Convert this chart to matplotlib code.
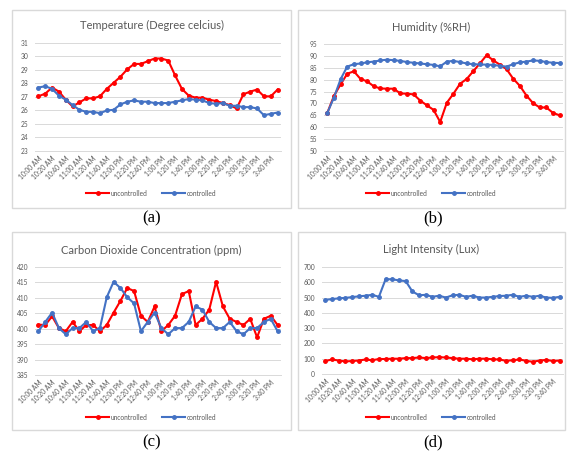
"""Four Excel-style line charts: uncontrolled vs controlled greenhouse readings."""

import matplotlib

matplotlib.use("Agg")
import matplotlib.pyplot as plt
from matplotlib.lines import Line2D
from matplotlib.patches import Rectangle

plt.rcParams["font.family"] = ["Lato", "DejaVu Sans"]

times = [
    "10:00 AM", "10:10 AM", "10:20 AM", "10:30 AM", "10:40 AM", "10:50 AM",
    "11:00 AM", "11:10 AM", "11:20 AM", "11:30 AM", "11:40 AM", "11:50 AM",
    "12:00 PM", "12:10 PM", "12:20 PM", "12:30 PM", "12:40 PM", "12:50 PM",
    "1:00 PM", "1:10 PM", "1:20 PM", "1:30 PM", "1:40 PM", "1:50 PM",
    "2:00 PM", "2:10 PM", "2:20 PM", "2:30 PM", "2:40 PM", "2:50 PM",
    "3:00 PM", "3:10 PM", "3:20 PM", "3:30 PM", "3:40 PM", "3:50 PM",
]

temp_uncontrolled = [27.05, 27.25, 27.7, 27.4, 26.8, 26.3, 26.6, 26.9, 26.9, 27.05, 27.6, 28.05,
                     28.5, 29.05, 29.45, 29.45, 29.65, 29.85, 29.85, 29.7, 28.6, 27.6, 27.1, 26.95,
                     26.95, 26.8, 26.7, 26.55, 26.4, 26.15, 27.2, 27.4, 27.55, 27.05, 27.05, 27.55]
temp_controlled = [27.7, 27.8, 27.6, 27.1, 26.8, 26.4, 26.05, 25.9, 25.9, 25.8, 26.0, 26.05,
                   26.45, 26.65, 26.75, 26.65, 26.65, 26.55, 26.55, 26.55, 26.65, 26.75, 26.85, 26.8,
                   26.75, 26.55, 26.5, 26.55, 26.35, 26.35, 26.25, 26.25, 26.15, 25.65, 25.75, 25.85]

hum_uncontrolled = [66.0, 73.2, 78.0, 82.5, 83.5, 80.3, 79.3, 77.2, 76.3, 76.2, 76.2, 74.2,
                    74.1, 73.8, 71.2, 69.2, 67.3, 62.2, 70.3, 74.1, 78.3, 80.3, 83.6, 86.9,
                    90.3, 88.1, 86.3, 84.4, 80.4, 77.4, 73.3, 70.1, 68.3, 68.3, 66.0, 65.0]
hum_controlled = [66.0, 72.5, 80.2, 85.5, 86.5, 86.8, 87.3, 87.6, 88.1, 88.4, 88.2, 87.9,
                  87.4, 87.1, 86.8, 86.5, 86.2, 85.6, 87.6, 87.9, 87.4, 86.8, 86.5, 86.4,
                  86.3, 86.2, 85.8, 85.5, 86.5, 87.3, 87.6, 88.1, 87.9, 87.4, 87.1, 87.0]

co2_uncontrolled = [401.3, 401.2, 404.0, 400.2, 399.2, 402.2, 399.2, 401.2, 401.2, 399.2, 401.2, 405.2,
                    409.0, 413.2, 412.2, 404.2, 402.2, 407.2, 399.2, 401.2, 404.2, 411.2, 412.2, 401.2,
                    403.2, 406.2, 415.2, 407.2, 403.2, 402.2, 401.2, 403.2, 397.2, 403.2, 404.2, 401.2]
co2_controlled = [399.2, 402.2, 405.2, 400.2, 398.2, 400.2, 400.2, 402.2, 399.2, 400.2, 410.2, 415.2,
                  413.2, 410.2, 408.2, 399.2, 402.2, 405.2, 400.2, 398.2, 400.2, 400.2, 402.2, 407.2,
                  406.2, 402.2, 400.2, 400.2, 402.2, 399.2, 398.2, 400.2, 400.2, 402.2, 403.2, 399.2]

light_uncontrolled = [85, 95, 88, 82, 85, 88, 95, 90, 98, 98, 100, 100,
                      104, 104, 108, 104, 108, 110, 108, 104, 100, 100, 96, 100,
                      100, 96, 95, 86, 90, 95, 86, 80, 88, 92, 85, 88]
light_controlled = [485, 490, 495, 498, 503, 508, 512, 518, 505, 620, 620, 612,
                    608, 540, 515, 518, 505, 512, 500, 515, 518, 505, 512, 500,
                    500, 505, 510, 512, 518, 505, 512, 505, 512, 500, 498, 505]

W, H = 567, 453
RED = "#FF0000"
BLUE = "#4472C4"
GRID = "#D9D9D9"
TEXT = "#595959"


def fx(px):
    return px / W


def fy(py):
    return 1 - py / H


panels = [
    dict(box=(12, 10, 291, 208), area=(35, 43, 281, 151), title="Temperature (Degree celcius)",
         title_y=25, yticks=range(23, 32), legend_y=193, caption="(a)", cap_x=152, cap_y=218,
         u=temp_uncontrolled, c=temp_controlled),
    dict(box=(298, 10, 565, 208), area=(324, 44, 563, 151), title="Humidity (%RH)",
         title_y=27, yticks=range(50, 96, 5), legend_y=193, caption="(b)", cap_x=433, cap_y=218,
         u=hum_uncontrolled, c=hum_controlled),
    dict(box=(12, 232, 291, 430), area=(35, 267, 281, 375),
         title="Carbon Dioxide Concentration (ppm)",
         title_y=250, yticks=range(385, 421, 5), legend_y=417, caption="(c)", cap_x=152, cap_y=442,
         u=co2_uncontrolled, c=co2_controlled),
    dict(box=(298, 232, 565, 430), area=(322, 267, 563, 374), title="Light Intensity (Lux)",
         title_y=249, yticks=range(0, 701, 100), legend_y=417, caption="(d)", cap_x=433, cap_y=442,
         u=light_uncontrolled, c=light_controlled),
]

fig = plt.figure(figsize=(W / 100, H / 100), dpi=100)
fig.patch.set_facecolor("white")

x = list(range(len(times)))
line_kw = dict(linewidth=1.5, marker="o", markersize=2.5)

for p in panels:
    bx0, by0, bx1, by1 = p["box"]
    fig.patches.append(Rectangle((fx(bx0), fy(by1)), fx(bx1 - bx0), (by1 - by0) / H,
                                 transform=fig.transFigure, fill=False,
                                 edgecolor=GRID, linewidth=1.0))

    ax0, ay0, ax1, ay1 = p["area"]
    ax = fig.add_axes([fx(ax0), fy(ay1), fx(ax1 - ax0), (ay1 - ay0) / H])
    ax.plot(x, p["u"], color=RED, **line_kw)
    ax.plot(x, p["c"], color=BLUE, **line_kw)

    yt = list(p["yticks"])
    ax.set_ylim(yt[0], yt[-1])
    ax.set_yticks(yt)
    ax.set_xlim(-0.5, len(times) - 0.5)
    ax.set_xticks(x[::2])
    ax.set_xticklabels(times[::2], rotation=45, ha="right", va="top",
                       rotation_mode="anchor", fontsize=4.8, color=TEXT)
    ax.tick_params(axis="y", labelsize=4.8, labelcolor=TEXT, length=0, pad=5)
    ax.tick_params(axis="x", length=0, pad=3)
    ax.grid(True, axis="y", color=GRID, linewidth=0.7)
    ax.set_axisbelow(True)
    for side in ("top", "right", "left"):
        ax.spines[side].set_visible(False)
    ax.spines["bottom"].set_color(GRID)
    ax.spines["bottom"].set_linewidth(0.7)

    fig.text(fx((bx0 + bx1) / 2), fy(p["title_y"]), p["title"], ha="center", va="center",
             fontsize=8, color=TEXT)

    handles = [Line2D([], [], color=RED, **line_kw), Line2D([], [], color=BLUE, **line_kw)]
    ax.legend(handles, ["uncontrolled", "controlled"], loc="center",
              bbox_to_anchor=(fx((bx0 + bx1) / 2), fy(p["legend_y"])),
              bbox_transform=fig.transFigure, ncol=2, frameon=False, fontsize=4.8,
              handlelength=3.4, handletextpad=0.3, columnspacing=2.2, labelcolor=TEXT)

    fig.text(fx(p["cap_x"]), fy(p["cap_y"]), p["caption"], ha="center", va="center",
             fontsize=12, family=["Liberation Serif", "DejaVu Serif"], color="black")

fig.savefig("out.png", dpi=100)
plt.close(fig)
